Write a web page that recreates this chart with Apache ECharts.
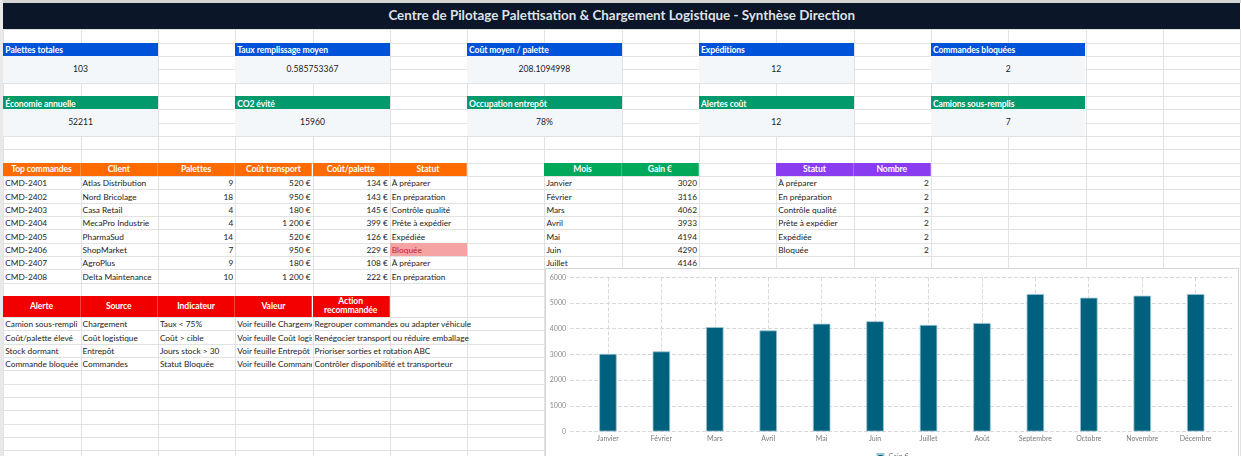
<!DOCTYPE html>
<html>
<head>
<meta charset="utf-8">
<title>Centre de Pilotage Palettisation</title>
<script src="https://cdn.jsdelivr.net/npm/echarts@6/dist/echarts.min.js"></script>
<style>
  html, body { margin:0; padding:0; width:1241px; height:456px; overflow:hidden; background:#fff; }
  body { font-family: Lato, "Open Sans", sans-serif; position:relative; }
  .c { position:absolute; box-sizing:border-box; font-size:8.3px; color:#222; white-space:nowrap;
       line-height:1; display:flex; align-items:flex-end; padding:0 2px 1.6px 2px; }
  .mid { align-items:center; padding-bottom:0; }
  .clip { overflow:hidden; }
  .hd { color:#fff; font-weight:700; font-size:8.6px; letter-spacing:-0.1px; }
  .kh { align-items:flex-end; padding-bottom:1px; }
  .kv { font-size:8.6px; color:#1a1a1a; }
  .sep { border-right:1px solid rgba(255,255,255,0.25); }
  #chart { position:absolute; left:545px; top:268px; width:695px; height:200px; background:#fff; }
  #chartBorder { position:absolute; left:545px; top:268px; width:694px; height:200px;
       border:1px solid #d6d6d6; box-sizing:border-box; pointer-events:none; }
</style>
</head>
<body>
<div id="sheet"></div>
<div id="chart"></div>
<div id="chartBorder"></div>
<script>
// ---- donnees ----
var title = 'Centre de Pilotage Palettisation & Chargement Logistique - Synthèse Direction';

var kpiLabels1 = ['Palettes totales', 'Taux remplissage moyen', 'Coût moyen / palette', 'Expéditions', 'Commandes bloquées'];
var kpiValues1 = ['103', '0.585753367', '208.1094998', '12', '2'];
var kpiLabels2 = ['Économie annuelle', 'CO2 évité', 'Occupation entrepôt', 'Alertes coût', 'Camions sous-remplis'];
var kpiValues2 = ['52211', '15960', '78%', '12', '7'];

var orderHeaders = ['Top commandes', 'Client', 'Palettes', 'Coût transport', 'Coût/palette', 'Statut'];
var orderIds = ['CMD-2401', 'CMD-2402', 'CMD-2403', 'CMD-2404', 'CMD-2405', 'CMD-2406', 'CMD-2407', 'CMD-2408'];
var orderClients = ['Atlas Distribution', 'Nord Bricolage', 'Casa Retail', 'MecaPro Industrie', 'PharmaSud', 'ShopMarket', 'AgroPlus', 'Delta Maintenance'];
var orderPallets = [9, 18, 4, 4, 14, 7, 9, 10];
var orderTransport = [520, 950, 180, 1200, 520, 950, 180, 1200];
var orderCostPallet = [134, 143, 145, 399, 126, 229, 108, 222];
var orderStatus = ['À préparer', 'En préparation', 'Contrôle qualité', 'Prête à expédier', 'Expédiée', 'Bloquée', 'À préparer', 'En préparation'];

var monthHeaders = ['Mois', 'Gain €'];
var months = ['Janvier', 'Février', 'Mars', 'Avril', 'Mai', 'Juin', 'Juillet', 'Août', 'Septembre', 'Octobre', 'Novembre', 'Décembre'];
var gains = [3020, 3116, 4062, 3933, 4194, 4290, 4146, 4222, 5350, 5206, 5284, 5350];

var statusHeaders = ['Statut', 'Nombre'];
var statusLabels = ['À préparer', 'En préparation', 'Contrôle qualité', 'Prête à expédier', 'Expédiée', 'Bloquée'];
var statusCounts = [2, 2, 2, 2, 2, 2];

var alertHeaders = ['Alerte', 'Source', 'Indicateur', 'Valeur', 'Action<br>recommandée'];
var alertNames = ['Camion sous-rempli', 'Coût/palette élevé', 'Stock dormant', 'Commande bloquée'];
var alertSources = ['Chargement', 'Coût logistique', 'Entrepôt', 'Commandes'];
var alertIndicators = ['Taux < 75%', 'Coût > cible', 'Jours stock > 30', 'Statut Bloquée'];
var alertValues = ['Voir feuille Chargement', 'Voir feuille Coût logistique', 'Voir feuille Entrepôt', 'Voir feuille Commandes'];
var alertActions = ['Regrouper commandes ou adapter véhicule', 'Renégocier transport ou réduire emballage', 'Prioriser sorties et rotation ABC', 'Contrôler disponibilité et transporteur'];

// ---- grille du tableur ----
var COL0 = 3.3, COLW = 77.3, NCOLS = 16, NROWS = 33;

function X(c){ return COL0 + c * COLW; }
function Y(r){
  if(r <= 0) return 3;
  if(r <= 21) return 29.3 + (r - 1) * 13.33;
  return 317 + (r - 22) * 13.33;
}

var sheet = document.getElementById('sheet');

function box(left, top, w, h, css){
  var d = document.createElement('div');
  d.style.position = 'absolute';
  d.style.left = left + 'px'; d.style.top = top + 'px';
  d.style.width = w + 'px'; d.style.height = h + 'px';
  if(css) d.style.cssText += css;
  sheet.appendChild(d);
  return d;
}

function cell(col, row, cs, rs, html, opt){
  opt = opt || {};
  var d = document.createElement('div');
  d.className = 'c ' + (opt.cls || '');
  d.style.left = X(col) + 'px';
  d.style.top = Y(row) + 'px';
  d.style.width = (X(col + cs) - X(col)) + 'px';
  d.style.height = (Y(row + rs) - Y(row)) + 'px';
  if(opt.bg) d.style.background = opt.bg;
  if(opt.color) d.style.color = opt.color;
  if(opt.align == 'right') d.style.justifyContent = 'flex-end';
  if(opt.align == 'center'){ d.style.justifyContent = 'center'; d.style.textAlign = 'center'; }
  d.innerHTML = html;
  sheet.appendChild(d);
  return d;
}

function euro(n){
  var s = String(n);
  if(n >= 1000) s = s.slice(0, s.length - 3) + ' ' + s.slice(-3);
  return s + ' €';
}

// bandes grises (en-tetes du tableur)
box(0, 0, 1241, 3, 'background:#d4d4d4;');
box(0, 0, 3.3, 456, 'background:#e9e9e9;');

// lignes de grille
for(var c = 0; c <= NCOLS; c++) box(X(c), Y(1), 1, 456 - Y(1), 'background:#e2e2e2;');
for(var r = 1; r <= NROWS; r++) box(COL0, Y(r), 1241 - COL0, 1, 'background:#e2e2e2;');

// titre
cell(0, 0, NCOLS, 1, title, {bg:'#0b1629', align:'center', color:'#dfe2e7', cls:'mid'}).style.cssText +=
  'font-weight:700;font-size:13.4px;';

// KPI
var kpiCols = [0, 3, 6, 9, 12];
for(var i = 0; i < kpiCols.length; i++){
  cell(kpiCols[i], 2, 2, 1, kpiLabels1[i], {bg:'#0052d9', cls:'hd kh'});
  cell(kpiCols[i], 3, 2, 2, kpiValues1[i], {bg:'#f4f7fa', align:'center', cls:'kv mid'});
  cell(kpiCols[i], 6, 2, 1, kpiLabels2[i], {bg:'#019a6d', cls:'hd kh'});
  cell(kpiCols[i], 7, 2, 2, kpiValues2[i], {bg:'#f4f7fa', align:'center', cls:'kv mid'});
}

// top commandes
for(i = 0; i < orderHeaders.length; i++){
  cell(i, 11, 1, 1, orderHeaders[i], {bg:'#ff6b00', cls:'hd sep mid', align:'center'});
}
for(i = 0; i < orderIds.length; i++){
  var rr = 12 + i;
  cell(0, rr, 1, 1, orderIds[i]);
  cell(1, rr, 1, 1, orderClients[i]);
  cell(2, rr, 1, 1, orderPallets[i], {align:'right'});
  cell(3, rr, 1, 1, euro(orderTransport[i]), {align:'right'});
  cell(4, rr, 1, 1, euro(orderCostPallet[i]), {align:'right'});
  if(orderStatus[i] == 'Bloquée'){
    cell(5, rr, 1, 1, orderStatus[i], {bg:'#f6a3a3', color:'#c4262e'});
  }else{
    cell(5, rr, 1, 1, orderStatus[i]);
  }
}

// gains par mois
for(i = 0; i < monthHeaders.length; i++){
  cell(7 + i, 11, 1, 1, monthHeaders[i], {bg:'#00a859', cls:'hd sep mid', align:'center'});
}
for(i = 0; i < months.length; i++){
  cell(7, 12 + i, 1, 1, months[i]);
  cell(8, 12 + i, 1, 1, gains[i], {align:'right'});
}

// statuts
for(i = 0; i < statusHeaders.length; i++){
  cell(10 + i, 11, 1, 1, statusHeaders[i], {bg:'#8a3cf0', cls:'hd sep mid', align:'center'});
}
for(i = 0; i < statusLabels.length; i++){
  cell(10, 12 + i, 1, 1, statusLabels[i]);
  cell(11, 12 + i, 1, 1, statusCounts[i], {align:'right'});
}

// alertes
for(i = 0; i < alertHeaders.length; i++){
  cell(i, 21, 1, 1, alertHeaders[i], {bg:'#f20000', cls:'hd sep mid', align:'center'}).style.lineHeight = '1.15';
}
for(i = 0; i < alertNames.length; i++){
  cell(0, 22 + i, 1, 1, alertNames[i], {cls:'clip'});
  cell(1, 22 + i, 1, 1, alertSources[i], {cls:'clip'});
  cell(2, 22 + i, 1, 1, alertIndicators[i], {cls:'clip'});
  cell(3, 22 + i, 1, 1, alertValues[i], {cls:'clip'});
  cell(4, 22 + i, 1, 1, alertActions[i]);
}

// ---- graphique ----
var chart = echarts.init(document.getElementById('chart'));
var gridTop = 9.3, gridH = 154.2;
var dashed = {type:'dashed', color:'#d9d9d9', width:1};

chart.setOption({
  animation: false,
  textStyle: {fontFamily: 'Lato'},
  legend: {
    data: ['Gain €'],
    top: 180, left: 'center',
    icon: 'rect', itemWidth: 6, itemHeight: 6, itemGap: 4,
    textStyle: {fontSize: 7, color: '#777'}
  },
  grid: [
    {left: 25, top: gridTop, width: 662, height: gridH},
    {left: 62.9, top: gridTop, width: 587.7, height: gridH},
    {left: 36.2, top: gridTop, width: 641.2, height: gridH}
  ],
  xAxis: [
    {gridIndex: 0, type: 'value', min: 0, max: 1, show: false},
    {gridIndex: 1, type: 'category', data: months, boundaryGap: false,
     axisLine: {show: false}, axisTick: {show: false}, axisLabel: {show: false},
     splitLine: {show: true, interval: 0, lineStyle: dashed}},
    {gridIndex: 2, type: 'category', data: months,
     axisLine: {show: false}, axisTick: {show: false},
     axisLabel: {interval: 0, fontSize: 7, color: '#7a7a7a', margin: 4}}
  ],
  yAxis: [
    {gridIndex: 0, type: 'value', min: 0, max: 6000, interval: 1000,
     axisLine: {show: false}, axisTick: {show: false},
     axisLabel: {fontSize: 7, color: '#8a8a8a', margin: 4,
                 formatter: function(v){ return String(v); }},
     splitLine: {show: true, lineStyle: dashed}},
    {gridIndex: 1, type: 'value', min: 0, max: 6000, show: false},
    {gridIndex: 2, type: 'value', min: 0, max: 6000, show: false}
  ],
  series: [{
    name: 'Gain €',
    type: 'bar',
    xAxisIndex: 2,
    yAxisIndex: 2,
    data: gains,
    barWidth: 17.5,
    itemStyle: {color: '#00617f', borderColor: '#9cc4d2', borderWidth: 0.8}
  }]
});
</script>
</body>
</html>
